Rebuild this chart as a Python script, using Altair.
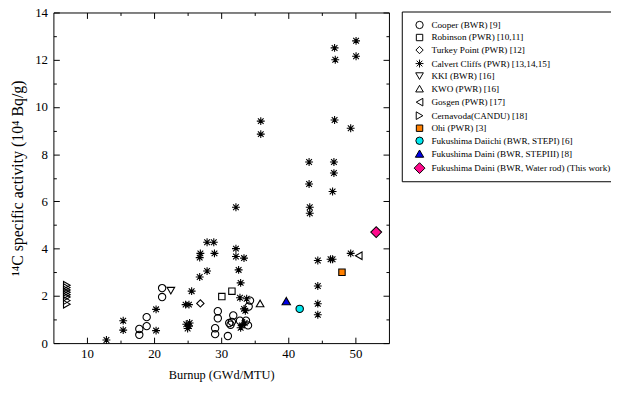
import altair as alt
import pandas as pd

# ---------------- data ----------------
series = [
    "Cooper (BWR) [9]",
    "Robinson (PWR) [10,11]",
    "Turkey Point (PWR) [12]",
    "Calvert Cliffs (PWR) [13,14,15]",
    "KKI (BWR) [16]",
    "KWO (PWR) [16]",
    "Gosgen (PWR) [17]",
    "Cernavoda(CANDU) [18]",
    "Ohi (PWR) [3]",
    "Fukushima Daiichi (BWR, STEPI) [6]",
    "Fukushima Daini (BWR, STEPIII) [8]",
    "Fukushima Daini (BWR, Water rod) (This work)",
]

cooper_x = [17.8, 17.8, 18.9, 18.9, 21.2, 21.2, 29.1, 29.1, 29.5, 29.5, 31.0, 31.2, 31.4, 31.6, 31.8, 32.8, 33.7, 34.0, 34.1, 34.3]
cooper_y = [0.6, 0.35, 1.1, 0.72, 2.33, 1.95, 0.63, 0.38, 1.35, 1.05, 0.3, 0.85, 0.78, 0.9, 1.17, 0.95, 0.95, 0.75, 1.55, 1.8]
robinson_x = [30.1, 31.6]
robinson_y = [1.97, 2.2]
turkey_x = [26.9]
turkey_y = [1.68]
calvert_x = [12.9, 15.4, 15.4, 20.3, 20.3, 24.7, 25.2, 25.6, 24.8, 25.3, 25.0, 25.2,
             26.8, 27.9, 26.8, 26.9, 29.0, 27.9, 28.9, 32.2, 32.2, 32.2, 33.4, 32.6,
             32.9, 32.8, 33.8, 33.4, 33.6, 33.1, 33.5, 32.9, 35.9, 35.9, 43.1, 43.1,
             43.2, 43.2, 44.4, 44.4, 44.4, 44.4, 46.3, 46.6, 46.6, 46.8, 46.8, 46.9,
             46.9, 47.0, 49.3, 49.3, 50.1, 50.1]
calvert_y = [0.13, 0.95, 0.55, 1.43, 0.53, 1.63, 1.63, 2.2, 0.8, 0.85, 0.62, 0.72,
             2.8, 3.05, 3.62, 3.8, 3.8, 4.27, 4.27, 5.75, 4.0, 3.67, 3.6, 3.1,
             2.55, 1.92, 1.88, 1.45, 1.37, 0.75, 0.85, 0.65, 9.4, 8.85, 7.67, 6.74,
             5.75, 5.5, 3.5, 2.42, 1.67, 1.2, 3.55, 3.55, 6.42, 7.2, 7.67, 9.45,
             12.5, 12.0, 9.1, 3.8, 12.8, 12.15]
kki_x = [22.5]
kki_y = [2.22]
kwo_x = [35.8]
kwo_y = [1.68]
gosgen_x = [50.5]
gosgen_y = [3.7]
cernavoda_x = [7.0, 7.0, 7.0, 7.0, 7.0, 7.0, 7.0, 7.0]
cernavoda_y = [1.65, 1.8, 1.95, 2.05, 2.15, 2.25, 2.35, 2.45]
ohi_x = [48.0]
ohi_y = [3.0]
daiichi_x = [41.7]
daiichi_y = [1.45]
daini3_x = [39.7]
daini3_y = [1.78]
waterrod_x = [53.1]
waterrod_y = [4.7]

xs = [cooper_x, robinson_x, turkey_x, calvert_x, kki_x, kwo_x, gosgen_x,
      cernavoda_x, ohi_x, daiichi_x, daini3_x, waterrod_x]
ys = [cooper_y, robinson_y, turkey_y, calvert_y, kki_y, kwo_y, gosgen_y,
      cernavoda_y, ohi_y, daiichi_y, daini3_y, waterrod_y]

x_major = [10, 20, 30, 40, 50]
x_minor = [15, 25, 35, 45]
y_major = [0, 2, 4, 6, 8, 10, 12, 14]
y_minor = [1, 3, 5, 7, 9, 11, 13]

# ---------------- styles ----------------
asterisk = "M-1,0L1,0M0,-1L0,1M-0.72,-0.72L0.72,0.72M-0.72,0.72L0.72,-0.72"
shapes = ["circle", "square", "diamond", asterisk, "triangle-down", "triangle-up",
          "triangle-left", "triangle-right", "square", "circle", "triangle-up", "diamond"]
fills = ["transparent", "transparent", "transparent", "black", "transparent", "transparent",
         "transparent", "transparent", "#FF7F00", "#00E8F0", "#0000E8", "#FF0A8C"]
strokes = ["black"] * 12
sizes = [55, 42, 55, 64, 60, 60, 60, 60, 42, 56, 72, 121]

rows = []
for s, xv, yv in zip(series, xs, ys):
    for a, b in zip(xv, yv):
        rows.append({"series": s, "burnup": a, "activity": b})
df = pd.DataFrame(rows)

FONT = "Liberation Serif"
x_scale = alt.Scale(domain=[5, 55], nice=False, zero=False)
y_scale = alt.Scale(domain=[0, 14], nice=False, zero=False)

base = alt.Chart(df)


def tick_layer(xvals, yvals, xorient, yorient, size):
    return base.mark_point(opacity=0).encode(
        x=alt.X("burnup:Q", scale=x_scale,
                axis=alt.Axis(orient=xorient, values=xvals, tickSize=size, offset=-size,
                              labels=False, domain=False, grid=False, title=None,
                              tickColor="black", tickWidth=1)),
        y=alt.Y("activity:Q", scale=y_scale,
                axis=alt.Axis(orient=yorient, values=yvals, tickSize=size, offset=-size,
                              labels=False, domain=False, grid=False, title=None,
                              tickColor="black", tickWidth=1)),
    )


legend = alt.Legend(
    orient="none", legendX=353, legendY=-1, title=" ", titleFontSize=4, titlePadding=0,
    labelFont=FONT, labelFontSize=9.3, labelColor="black", labelLimit=500,
    strokeColor="black", fillColor="white", padding=5, rowPadding=0.7,
    symbolStrokeWidth=1, symbolOpacity=1, labelOffset=6, cornerRadius=0,
    symbolOffset=7,
)

points = base.mark_point(opacity=1, strokeWidth=1.1, filled=False).encode(
    x=alt.X("burnup:Q", scale=x_scale,
            axis=alt.Axis(orient="bottom", values=x_major, ticks=False, domain=False, grid=False,
                          title="Burnup (GWd/MTU)", labelPadding=5, titlePadding=8,
                          titleFontSize=12.5)),
    y=alt.Y("activity:Q", scale=y_scale,
            axis=alt.Axis(orient="left", values=y_major, ticks=False, domain=False, grid=False,
                          title="\u00b9\u2074C specific activity (10\u2074 Bq/g)",
                          labelPadding=6, titlePadding=9, titleFontSize=16)),
    fill=alt.Fill("series:N", scale=alt.Scale(domain=series, range=fills), legend=legend),
    stroke=alt.Stroke("series:N", scale=alt.Scale(domain=series, range=strokes), legend=legend),
    shape=alt.Shape("series:N", scale=alt.Scale(domain=series, range=shapes), legend=legend),
    size=alt.Size("series:N", scale=alt.Scale(type="ordinal", domain=series, range=sizes), legend=legend),
)

chart = alt.layer(
    tick_layer(x_major, y_major, "bottom", "left", 6),
    tick_layer(x_minor, y_minor, "bottom", "left", 3),
    tick_layer(x_major, y_major, "top", "right", 6),
    tick_layer(x_minor, y_minor, "top", "right", 3),
    points,
).resolve_axis(x="independent", y="independent").properties(
    width=340, height=335,
    autosize=alt.AutoSizeParams(type="none"),
    padding={"left": 46, "top": 2, "right": 225, "bottom": 48},
    background="white",
).configure_view(stroke="black", strokeWidth=1).configure_axis(
    labelFont=FONT, labelFontSize=13, labelColor="black",
    titleFont=FONT, titleFontSize=13, titleFontWeight="normal", titleColor="black",
)

chart.save("out.html", embed_options={"renderer": "svg", "actions": False})
